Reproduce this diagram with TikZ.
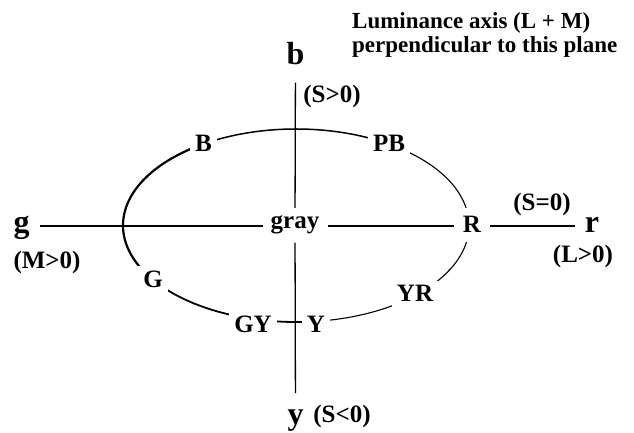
\documentclass[tikz,border=0pt]{standalone}
\usepackage{fontspec}
\setmainfont{Liberation Serif}
\usetikzlibrary{positioning}

\begin{document}
\begin{tikzpicture}[
  x=1pt, y=1pt,
  axislbl/.style={font=\fontsize{32}{32}\selectfont\bfseries, anchor=base, inner xsep=10pt, inner ysep=17pt},
  hue/.style={font=\fontsize{25}{25}\selectfont\bfseries, anchor=base, fill=white, inner sep=5pt},
  cond/.style={font=\fontsize{25}{25}\selectfont\bfseries, anchor=base, inner sep=0pt},
  axisline/.style={line width=1.3pt}
]
\useasboundingbox (0,0) rectangle (634,433);
\coordinate (o) at (295.5,207);
\coordinate (ec) at (296,207.5);

% hue ellipse
\draw[line width=1.1pt] (ec) ++(-83:173 and 96.5) arc[start angle=-83, end angle=57, x radius=173, y radius=96.5];
\draw[line width=1.5pt] (ec) ++(57:173 and 96.5) arc[start angle=57, end angle=123, x radius=173, y radius=96.5];
\draw[line width=2.2pt] (ec) ++(123:173 and 96.5) arc[start angle=123, end angle=214, x radius=173, y radius=96.5];
\draw[line width=1.8pt] (ec) ++(214:173 and 96.5) arc[start angle=214, end angle=277, x radius=173, y radius=96.5];

\node[font=\fontsize{23}{24}\selectfont\bfseries, align=left, anchor=north west, inner sep=0pt] (lum) at (352,421)
  {Luminance axis (L + M)\\perpendicular to this plane};

\node[axislbl] (b) at (295.5,368) {b};
\node[axislbl] (g) at (21.5,200) {g};
\node[axislbl] (r) at (592,200) {r};
\node[axislbl] (y) at (295.5,8) {y};

\node[cond] (spos) at (332,330) {(S>0)};
\node[cond] (sneg) at (342,10) {(S<0)};
\node[cond] (mpos) at (47,164) {(M>0)};
\node[cond] (szero) at (542,222) {(S=0)};
\node[cond] (lpos) at (583,170) {(L>0)};

\node[hue, inner sep=8pt, fill=none] (gray) at (295,204) {gray};
\node[hue] (B) at (203.5,281) {B};
\node[hue] (PB) at (389,281) {PB};
\node[hue, inner sep=9pt] (R) at (472,200) {R};
\node[hue] (YR) at (415,131) {YR};
\node[hue] (Y) at (316,100) {Y};
\node[hue] (GY) at (253,100) {GY};
\node[hue] (G) at (153,145) {G};

\draw[axisline] (b) -- (gray);
\draw[axisline] (gray) -- (y);
\draw[axisline] (g.east |- o) -- (gray.west |- o);
\draw[axisline] (gray.east |- o) -- (R.west |- o);
\draw[axisline] (R.east |- o) -- (r.west |- o);
\end{tikzpicture}
\end{document}
